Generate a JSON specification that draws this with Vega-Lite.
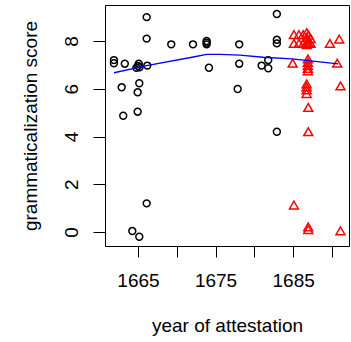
{
  "$schema": "https://vega.github.io/schema/vega-lite/v6.json",
  "width": 244,
  "height": 241,
  "autosize": "none",
  "padding": {"left": 105, "top": 5, "right": 2, "bottom": 96},
  "background": "white",
  "config": {
    "view": {"stroke": "black", "strokeWidth": 1},
    "axis": {
      "domain": false,
      "grid": false,
      "tickColor": "black",
      "tickWidth": 1,
      "labelColor": "black",
      "titleColor": "black",
      "labelFont": "Liberation Sans",
      "titleFont": "Liberation Sans",
      "labelFontSize": 19,
      "titleFontSize": 19,
      "titleFontWeight": "normal",
      "labelOverlap": false,
      "labelFlush": false
    }
  },
  "layer": [
    {
      "data": {
        "values": [
          {"year": 1661.9, "score": 7.2, "group": "circle"},
          {"year": 1661.9, "score": 7.07, "group": "circle"},
          {"year": 1663.3, "score": 7.05, "group": "circle"},
          {"year": 1662.9, "score": 6.06, "group": "circle"},
          {"year": 1663.1, "score": 4.87, "group": "circle"},
          {"year": 1664.27, "score": 0.04, "group": "circle"},
          {"year": 1665.17, "score": -0.2, "group": "circle"},
          {"year": 1664.96, "score": 5.04, "group": "circle"},
          {"year": 1664.96, "score": 5.85, "group": "circle"},
          {"year": 1665.17, "score": 6.23, "group": "circle"},
          {"year": 1664.8, "score": 6.88, "group": "circle"},
          {"year": 1665.0, "score": 6.95, "group": "circle"},
          {"year": 1665.1, "score": 7.05, "group": "circle"},
          {"year": 1665.2, "score": 6.9, "group": "circle"},
          {"year": 1666.2, "score": 6.97, "group": "circle"},
          {"year": 1666.12, "score": 8.1, "group": "circle"},
          {"year": 1666.12, "score": 9.0, "group": "circle"},
          {"year": 1666.12, "score": 1.2, "group": "circle"},
          {"year": 1669.29, "score": 7.86, "group": "circle"},
          {"year": 1672.09, "score": 7.86, "group": "circle"},
          {"year": 1673.85, "score": 8.0, "group": "circle"},
          {"year": 1673.85, "score": 7.93, "group": "circle"},
          {"year": 1673.85, "score": 7.86, "group": "circle"},
          {"year": 1674.15, "score": 6.88, "group": "circle"},
          {"year": 1677.85, "score": 5.99, "group": "circle"},
          {"year": 1678.05, "score": 7.86, "group": "circle"},
          {"year": 1678.05, "score": 7.05, "group": "circle"},
          {"year": 1680.94, "score": 6.97, "group": "circle"},
          {"year": 1681.79, "score": 7.2, "group": "circle"},
          {"year": 1681.79, "score": 6.86, "group": "circle"},
          {"year": 1682.9, "score": 9.13, "group": "circle"},
          {"year": 1682.9, "score": 8.05, "group": "circle"},
          {"year": 1682.9, "score": 7.9, "group": "circle"},
          {"year": 1682.9, "score": 4.2, "group": "circle"},
          {"year": 1685.1, "score": 8.27, "group": "triangle"},
          {"year": 1685.1, "score": 7.9, "group": "triangle"},
          {"year": 1685.75, "score": 8.27, "group": "triangle"},
          {"year": 1685.75, "score": 7.9, "group": "triangle"},
          {"year": 1686.3, "score": 8.27, "group": "triangle"},
          {"year": 1686.3, "score": 7.9, "group": "triangle"},
          {"year": 1686.75, "score": 8.35, "group": "triangle"},
          {"year": 1686.75, "score": 8.15, "group": "triangle"},
          {"year": 1686.75, "score": 7.95, "group": "triangle"},
          {"year": 1686.75, "score": 7.85, "group": "triangle"},
          {"year": 1687.0, "score": 8.25, "group": "triangle"},
          {"year": 1687.0, "score": 7.9, "group": "triangle"},
          {"year": 1687.25, "score": 8.1, "group": "triangle"},
          {"year": 1687.25, "score": 7.9, "group": "triangle"},
          {"year": 1689.74, "score": 7.9, "group": "triangle"},
          {"year": 1690.94, "score": 8.08, "group": "triangle"},
          {"year": 1684.94, "score": 7.07, "group": "triangle"},
          {"year": 1686.9, "score": 7.25, "group": "triangle"},
          {"year": 1686.9, "score": 7.1, "group": "triangle"},
          {"year": 1686.9, "score": 6.97, "group": "triangle"},
          {"year": 1686.9, "score": 6.85, "group": "triangle"},
          {"year": 1686.9, "score": 6.75, "group": "triangle"},
          {"year": 1690.68, "score": 7.07, "group": "triangle"},
          {"year": 1686.74, "score": 6.2, "group": "triangle"},
          {"year": 1686.74, "score": 6.08, "group": "triangle"},
          {"year": 1686.74, "score": 5.95, "group": "triangle"},
          {"year": 1686.74, "score": 5.8, "group": "triangle"},
          {"year": 1686.95, "score": 5.22, "group": "triangle"},
          {"year": 1686.95, "score": 4.2, "group": "triangle"},
          {"year": 1685.1, "score": 1.13, "group": "triangle"},
          {"year": 1686.95, "score": 0.22, "group": "triangle"},
          {"year": 1686.95, "score": 0.1, "group": "triangle"},
          {"year": 1691.1, "score": 6.12, "group": "triangle"},
          {"year": 1691.1, "score": 0.05, "group": "triangle"}
        ]
      },
      "mark": {"type": "point", "filled": false, "strokeWidth": 1.5, "opacity": 1},
      "encoding": {
        "x": {
          "field": "year",
          "type": "quantitative",
          "scale": {"domain": [1660.75, 1692.2], "nice": false, "zero": false},
          "axis": {
            "values": [1665, 1670, 1675, 1680, 1685, 1690],
            "format": "d",
            "labelExpr": "datum.value % 10 == 5 ? datum.label : ''",
            "tickSize": 11,
            "labelPadding": 14,
            "labelBaseline": "top",
            "title": "year of attestation",
            "titleY": 85.5,
            "titleBaseline": "alphabetic"
          }
        },
        "y": {
          "field": "score",
          "type": "quantitative",
          "scale": {"domain": [-0.586, 9.508], "nice": false, "zero": false},
          "axis": {
            "values": [0, 2, 4, 6, 8],
            "format": "d",
            "tickSize": 12,
            "labelAngle": -90,
            "labelAlign": "center",
            "labelBaseline": "alphabetic",
            "labelPadding": 16,
            "title": "grammaticalization score",
            "titleAngle": -90,
            "titleX": -69,
            "titleY": 120.5,
            "titleAlign": "center",
            "titleBaseline": "alphabetic"
          }
        },
        "shape": {"field": "group", "type": "nominal", "scale": {"domain": ["circle", "triangle"], "range": ["circle", "triangle-up"]}, "legend": null},
        "color": {"field": "group", "type": "nominal", "scale": {"domain": ["circle", "triangle"], "range": ["#000000", "#FF0000"]}, "legend": null},
        "size": {"field": "group", "type": "nominal", "scale": {"domain": ["circle", "triangle"], "range": [48, 80]}, "legend": null}
      }
    },
    {
      "data": {
        "values": [
          {"year": 1661.91, "score": 6.67},
          {"year": 1666.12, "score": 6.97},
          {"year": 1672.13, "score": 7.33},
          {"year": 1673.85, "score": 7.44},
          {"year": 1675.57, "score": 7.44},
          {"year": 1678.14, "score": 7.41},
          {"year": 1681.15, "score": 7.32},
          {"year": 1684.8, "score": 7.25},
          {"year": 1686.95, "score": 7.18},
          {"year": 1690.8, "score": 7.04}
        ]
      },
      "mark": {"type": "line", "color": "#0000FF", "strokeWidth": 1.3},
      "encoding": {
        "x": {"field": "year", "type": "quantitative"},
        "y": {"field": "score", "type": "quantitative"}
      }
    }
  ]
}
